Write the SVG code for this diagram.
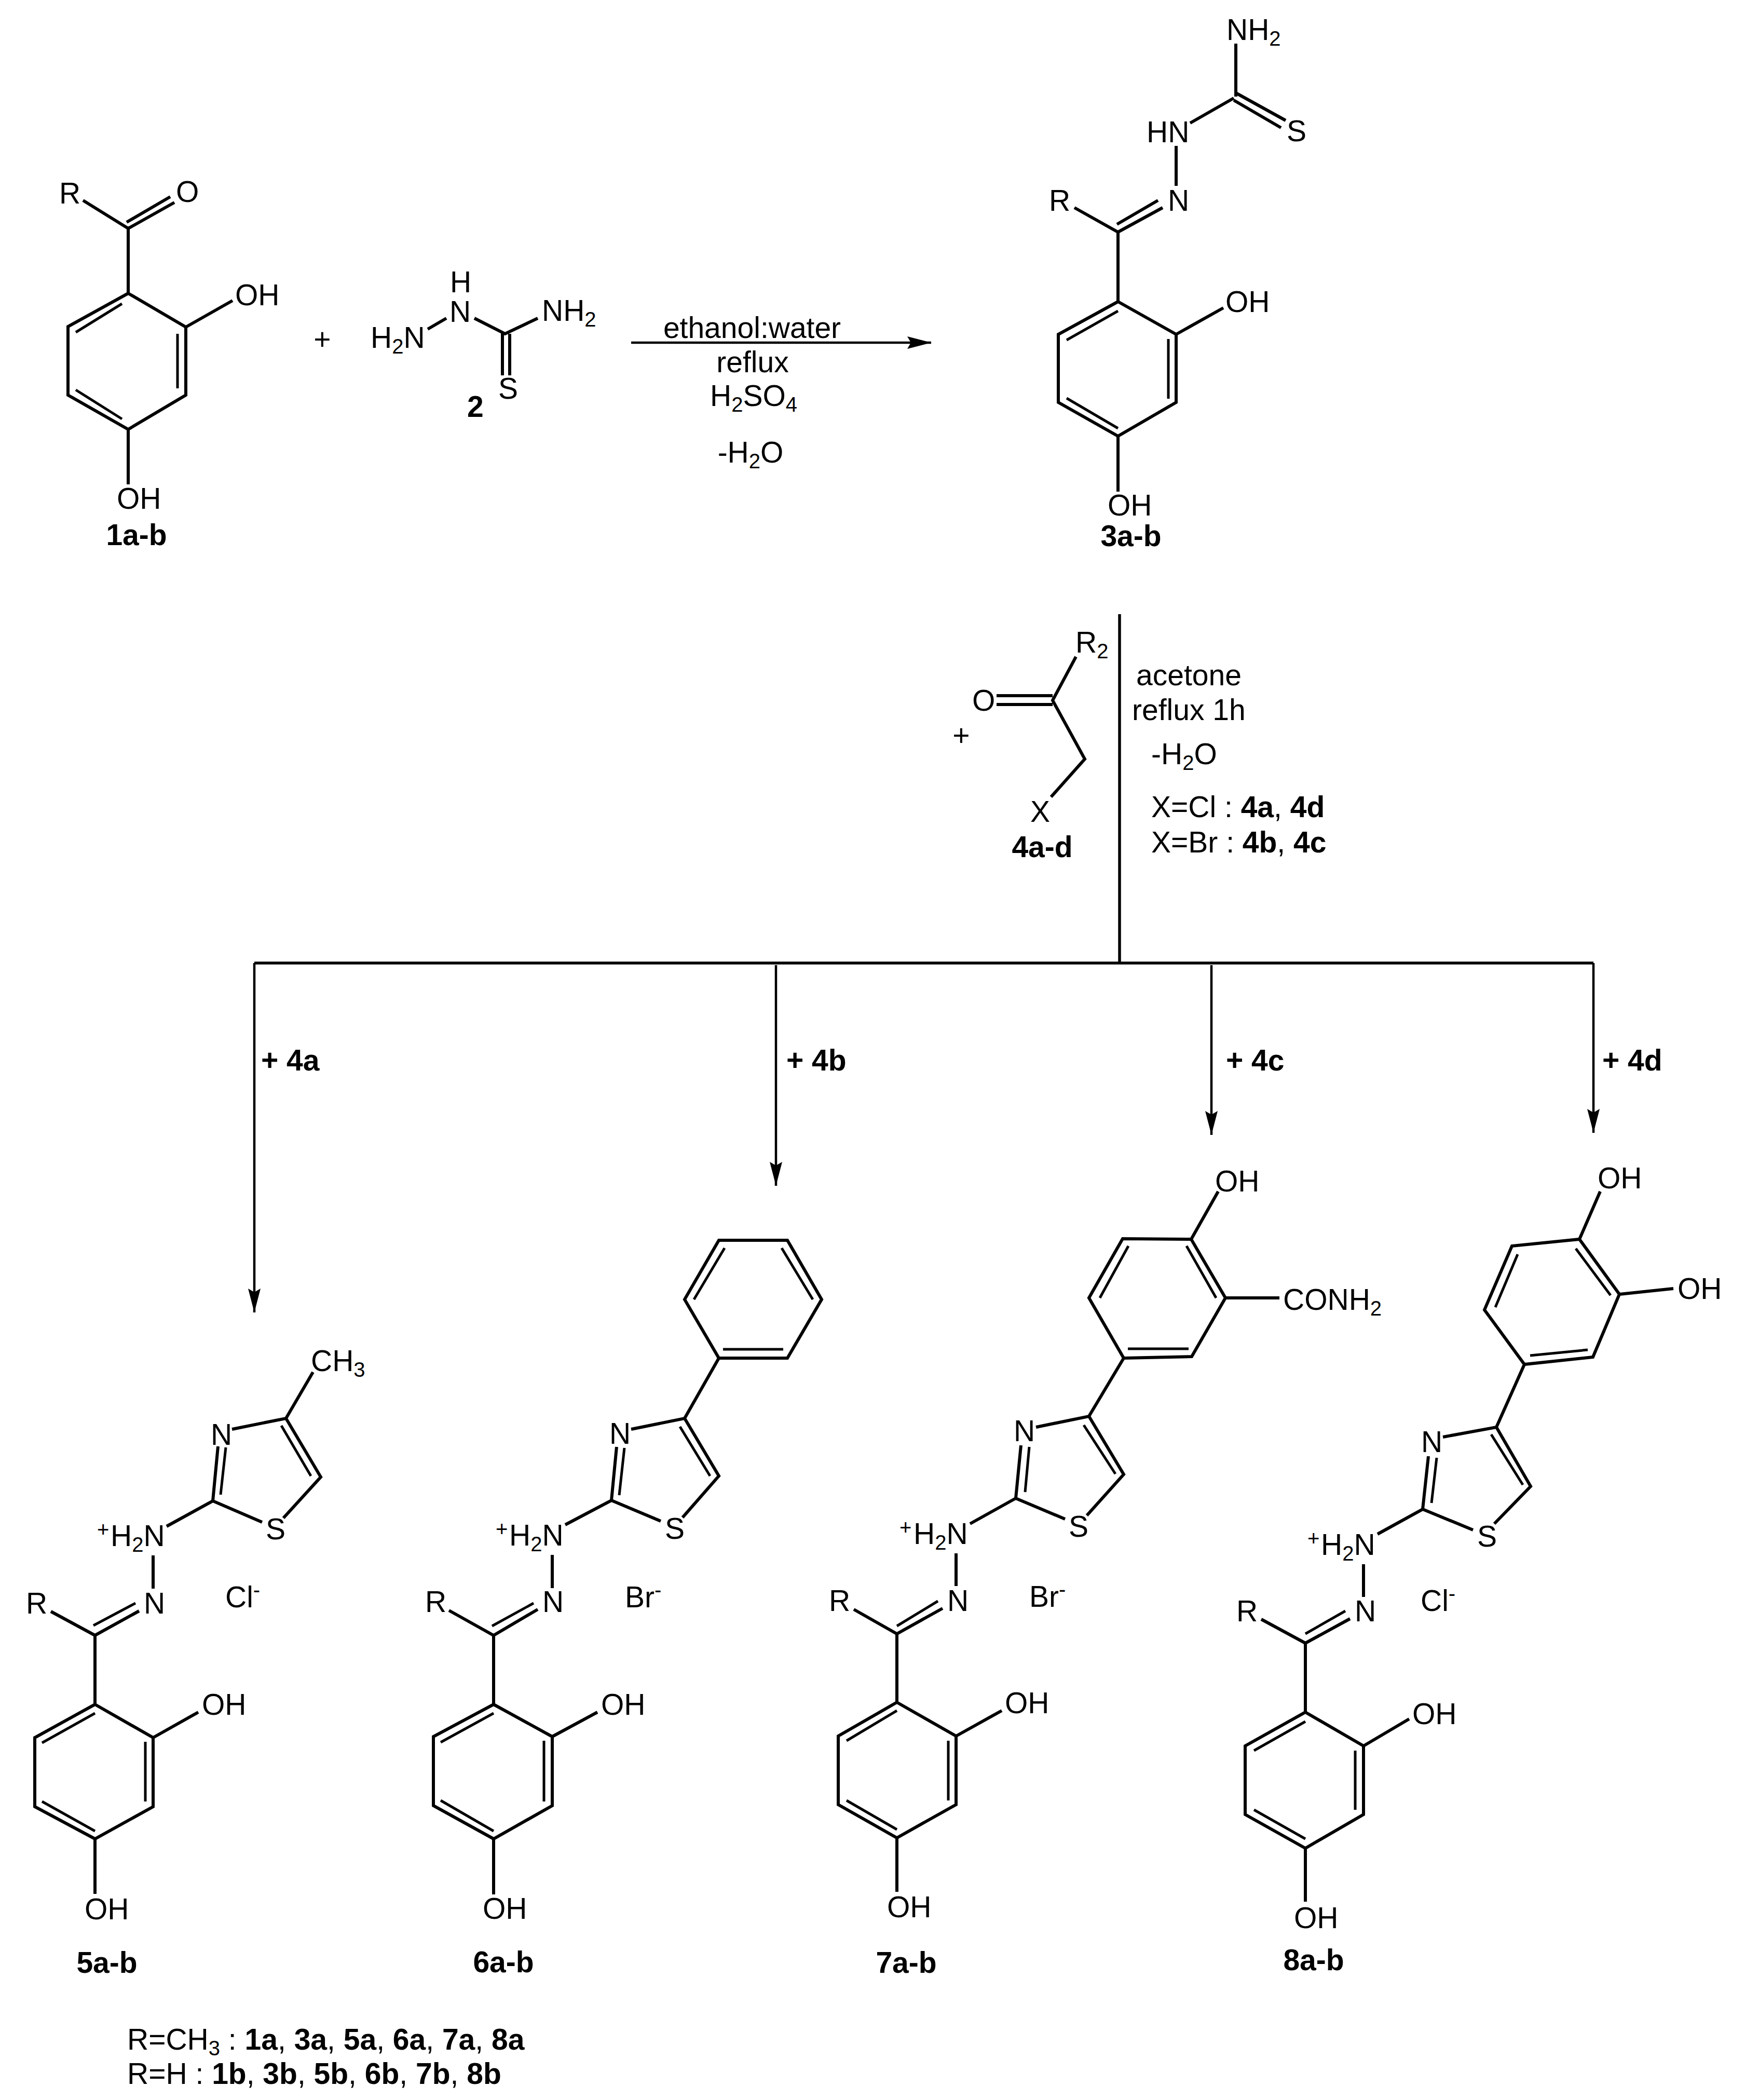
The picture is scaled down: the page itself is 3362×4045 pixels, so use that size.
<svg xmlns="http://www.w3.org/2000/svg" width="3362" height="4045" viewBox="0 0 3362 4045">
<style>
text{font-family:"Liberation Sans",Arial,sans-serif;font-size:57px;fill:#000}
.c{text-anchor:middle}
.b{font-weight:bold}
.s{font-size:40px}
.bond{fill:none;stroke:#000;stroke-width:6;stroke-linejoin:miter;stroke-linecap:butt}
.inner{fill:none;stroke:#000;stroke-width:5}
.conn{fill:none;stroke:#000;stroke-width:4.5}
.main{fill:none;stroke:#000;stroke-width:5.5}
</style>
<defs>
<marker id="arrow" markerUnits="userSpaceOnUse" markerWidth="46" markerHeight="26" viewBox="0 0 46 26" refX="46" refY="13" orient="auto">
<path d="M46 13L0 1L7 13L0 25Z" fill="#000"/>
</marker>
</defs>
<rect width="3362" height="4045" fill="#fff"/>

<g id="connectors">
<path class="conn" d="M1216 660H1794" marker-end="url(#arrow)"/>
<path class="main" d="M2157 1183V1855"/>
<path class="main" d="M490 1855H3070"/>
<path class="conn" d="M490 1855V2528" marker-end="url(#arrow)"/>
<path class="conn" d="M1495 1859V2284" marker-end="url(#arrow)"/>
<path class="conn" d="M2334 1859V2186" marker-end="url(#arrow)"/>
<path class="conn" d="M3070 1855V2182" marker-end="url(#arrow)"/>
</g>

<g id="compound-1">
<path class="bond" d="M247 565L358 630V761L247 827L131 761V629ZM247 436V565M160 386L247 440M358 630L448 579M247 827V933M244 428L328 379M247 440L336 390"/>
<path class="inner" d="M146 640L235 585M342 643V748M146 751L235 807"/>
<text x="114" y="392">R</text><text x="339" y="389">O</text><text x="453" y="588">OH</text><text x="225" y="980">OH</text>
<text class="b c" x="263" y="1050">1a-b</text>
</g>

<g id="plus-1"><text class="c" x="621" y="673">+</text></g>

<g id="compound-2">
<path class="bond" d="M824 634L860 613M914 613L973 643L1036 613M968 642V723M982 643V723"/>
<text x="714" y="670">H<tspan class="s" dy="11">2</tspan><tspan dy="-11">N</tspan></text>
<text x="867" y="563">H</text><text x="866" y="620">N</text>
<text x="1044" y="618">NH<tspan class="s" dy="11">2</tspan></text><text x="960" y="768">S</text>
<text class="b" x="900" y="803">2</text>
</g>

<g id="conditions-1">
<text class="c" x="1449" y="651">ethanol:water</text>
<text class="c" x="1450" y="717">reflux</text>
<text class="c" x="1452" y="782">H<tspan class="s" dy="11">2</tspan><tspan dy="-11">SO</tspan><tspan class="s" dy="11">4</tspan></text>
<text class="c" x="1446" y="891">-H<tspan class="s" dy="11">2</tspan><tspan dy="-11">O</tspan></text>
</g>

<g id="compound-3">
<path class="bond" d="M2154 581L2266 644V775L2154 840L2039 775V644ZM2154 447V581M2070 400L2154 447L2240 400M2266 644L2357 593M2154 840V947M2381 84V186M2381 179L2477 232M2377 193L2468 246M2377 189L2293 237M2266 281V358M2152 432L2231 386"/>
<path class="inner" d="M2055 655L2154 599M2251 653V768M2055 767L2154 825"/>
<text x="2363" y="77">NH<tspan class="s" dy="11">2</tspan></text><text x="2479" y="272">S</text><text x="2209" y="274">HN</text><text x="2250" y="406">N</text><text x="2021" y="406">R</text><text x="2361" y="601">OH</text><text x="2134" y="993">OH</text>
<text class="b c" x="2179" y="1052">3a-b</text>
</g>

<g id="compound-4">
<path class="bond" d="M2073 1265L2028 1349L2090 1462L2025 1535M1920 1340H2028M1920 1357H2028"/>
<text x="2072" y="1257">R<tspan class="s" dy="11">2</tspan></text><text x="1873" y="1369">O</text><text x="1985" y="1583">X</text>
<text class="c" x="1852" y="1436">+</text>
<text class="b c" x="2008" y="1651">4a-d</text>
</g>

<g id="conditions-2">
<text x="2189" y="1320">acetone</text>
<text x="2181" y="1387">reflux 1h</text>
<text x="2218" y="1472">-H<tspan class="s" dy="11">2</tspan><tspan dy="-11">O</tspan></text>
<text x="2218" y="1574">X=Cl : <tspan class="b">4a</tspan>, <tspan class="b">4d</tspan></text>
<text x="2218" y="1642">X=Br : <tspan class="b">4b</tspan>, <tspan class="b">4c</tspan></text>
</g>

<g id="reagent-labels">
<text class="b" x="503" y="2062">+ 4a</text>
<text class="b" x="1515" y="2062">+ 4b</text>
<text class="b" x="2362" y="2062">+ 4c</text>
<text class="b" x="3087" y="2062">+ 4d</text>
</g>

<g id="compound-5">
<path class="bond" d="M183 3283L295 3347V3480L183 3542L67 3480V3347ZM183 3150V3283M98 3104L183 3150L268 3103M295 3347L382 3298M183 3542V3648M295 2996V3060M321 2940L410 2891L505 2932M546 2924L618 2845L551 2732L447 2753M410 2891L420 2786M551 2732L603 2643"/>
<path class="inner" d="M81 3357L183 3300M280 3355V3470M81 3470L183 3527M180 3131L261 3088M425 2879L435 2788M542 2746L599 2843"/>
<text x="599" y="2641">CH<tspan class="s" dy="11">3</tspan></text><text x="406" y="2783">N</text><text x="512" y="2965">S</text>
<text x="187" y="2978"><tspan class="s" dy="-18">+</tspan><tspan x="213" dy="18">H</tspan><tspan class="s" dy="11">2</tspan><tspan dy="-11">N</tspan></text>
<text x="277" y="3108">N</text><text x="50" y="3108">R</text>
<text x="434" y="3096">Cl<tspan class="s" dy="-20">-</tspan></text>
<text x="389" y="3303">OH</text><text x="163" y="3697">OH</text>
<text class="b c" x="206" y="3800">5a-b</text>
</g>

<g id="compound-6">
<path class="bond" d="M951 3283L1064 3345V3478L951 3542L835 3478V3345ZM951 3150V3283M865 3102L951 3150L1036 3100M1064 3345L1151 3298M951 3542V3649M1064 2995V3059M1089 2937L1178 2890L1273 2930M1315 2923L1385 2843L1319 2732L1216 2753M1178 2890L1188 2787M1319 2732L1385 2616M1385 2389H1517L1583 2503L1517 2616H1385L1319 2503Z"/>
<path class="inner" d="M849 3356L951 3300M1048 3353V3470M849 3468L951 3527M948 3132L1028 3088M1193 2880L1203 2789M1310 2748L1368 2843M1337 2503L1396 2404M1506 2404L1566 2503M1393 2599H1509"/>
<text x="1174" y="2781">N</text><text x="1281" y="2964">S</text>
<text x="955" y="2977"><tspan class="s" dy="-18">+</tspan><tspan x="981" dy="18">H</tspan><tspan class="s" dy="11">2</tspan><tspan dy="-11">N</tspan></text>
<text x="1045" y="3105">N</text><text x="819" y="3105">R</text>
<text x="1204" y="3096">Br<tspan class="s" dy="-20">-</tspan></text>
<text x="1158" y="3303">OH</text><text x="930" y="3696">OH</text>
<text class="b c" x="970" y="3799">6a-b</text>
</g>

<g id="compound-7">
<path class="bond" d="M1728 3279L1842 3344V3476L1728 3540L1615 3476V3344ZM1728 3147V3279M1645 3100L1728 3147L1816 3098M1842 3344L1930 3295M1728 3540V3644M1842 2992V3055M1869 2935L1957 2886L2052 2926M2094 2919L2165 2840L2098 2728L1996 2749M1957 2886L1967 2784M2098 2728L2165 2616M2295 2387L2361 2500L2296 2613L2165 2616L2098 2500L2163 2386ZM2295 2387L2347 2295M2361 2500H2465"/>
<path class="inner" d="M1631 3353L1728 3295M1827 3353V3468M1631 3468L1728 3524M1728 3132L1807 3084M1975 2874L1983 2787M2088 2745L2149 2839M2119 2500L2174 2400M2286 2400L2343 2500M2173 2598H2290"/>
<text x="2341" y="2295">OH</text><text x="2472" y="2523">CONH<tspan class="s" dy="11">2</tspan></text>
<text x="1953" y="2776">N</text><text x="2059" y="2960">S</text>
<text x="1733" y="2974"><tspan class="s" dy="-18">+</tspan><tspan x="1760" dy="18">H</tspan><tspan class="s" dy="11">2</tspan><tspan dy="-11">N</tspan></text>
<text x="1825" y="3103">N</text><text x="1597" y="3103">R</text>
<text x="1983" y="3095">Br<tspan class="s" dy="-20">-</tspan></text>
<text x="1936" y="3300">OH</text><text x="1709" y="3693">OH</text>
<text class="b c" x="1746" y="3800">7a-b</text>
</g>

<g id="compound-8">
<path class="bond" d="M2515 3298L2627 3363V3495L2515 3560L2399 3495V3363ZM2515 3165V3298M2430 3119L2515 3165L2601 3118M2627 3363L2715 3311M2515 3560V3663M2627 3013V3076M2654 2955L2741 2907L2838 2947M2879 2935L2949 2863L2883 2749L2780 2768M2741 2907L2752 2805M2883 2749L2937 2628M3043 2387L3120 2493L3069 2614L2937 2628L2860 2523L2913 2400ZM3043 2387L3083 2295M3120 2493L3224 2482"/>
<path class="inner" d="M2416 3372L2515 3316M2611 3372V3486M2416 3486L2515 3542M2515 3147L2592 3103M2758 2895L2768 2808M2873 2763L2934 2860M2881 2518L2924 2416M3036 2405L3103 2495M2948 2611L3059 2600"/>
<text x="3078" y="2289">OH</text><text x="3232" y="2502">OH</text>
<text x="2738" y="2797">N</text><text x="2846" y="2979">S</text>
<text x="2519" y="2995"><tspan class="s" dy="-18">+</tspan><tspan x="2545" dy="18">H</tspan><tspan class="s" dy="11">2</tspan><tspan dy="-11">N</tspan></text>
<text x="2610" y="3123">N</text><text x="2382" y="3123">R</text>
<text x="2737" y="3103">Cl<tspan class="s" dy="-20">-</tspan></text>
<text x="2721" y="3321">OH</text><text x="2493" y="3714">OH</text>
<text class="b c" x="2531" y="3795">8a-b</text>
</g>

<g id="legend">
<text x="245" y="3948">R=CH<tspan class="s" dy="11">3</tspan><tspan dy="-11"> : </tspan><tspan class="b">1a</tspan>, <tspan class="b">3a</tspan>, <tspan class="b">5a</tspan>, <tspan class="b">6a</tspan>, <tspan class="b">7a</tspan>, <tspan class="b">8a</tspan></text>
<text x="245" y="4014">R=H : <tspan class="b">1b</tspan>, <tspan class="b">3b</tspan>, <tspan class="b">5b</tspan>, <tspan class="b">6b</tspan>, <tspan class="b">7b</tspan>, <tspan class="b">8b</tspan></text>
</g>
</svg>
